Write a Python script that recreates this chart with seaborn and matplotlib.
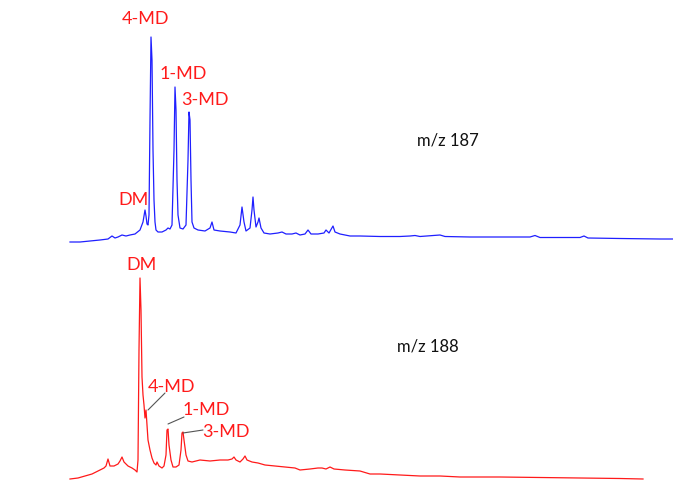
import matplotlib
matplotlib.use('Agg')
import matplotlib.pyplot as plt
import seaborn as sns

# retention time (scan units) and abundance for the m/z 187 trace
t_187 = [70, 80, 90, 100, 108, 112, 115, 118, 122, 126, 130, 135, 140, 143, 145, 146, 147, 148, 149,
         150, 151, 152, 153, 154, 155, 156, 158, 162, 166, 168, 170, 172, 174, 175, 176, 177, 178,
         180, 183, 186, 188, 189, 190, 191, 192, 194, 198, 205, 210, 212, 214, 220, 230, 236, 240,
         242, 244, 246, 250, 252, 253, 254, 256, 258, 259, 261, 264, 270, 278, 282, 286, 292, 296,
         300, 305, 308, 311, 318, 324, 326, 329, 333, 335, 340, 350, 360, 380, 400, 410, 415, 420,
         440, 445, 470, 500, 530, 535, 540, 580, 584, 588, 620, 660, 673]
i_187 = [8, 8, 9, 10, 11, 14, 12, 13, 15, 14, 15, 16, 20, 28, 40, 34, 26, 25, 35,
         130, 213, 190, 100, 50, 28, 20, 18, 18, 20, 22, 21, 25, 100, 163, 140, 70, 35,
         22, 21, 25, 90, 138, 130, 70, 28, 22, 20, 19, 22, 28, 20, 19, 18, 17, 25,
         43, 28, 19, 22, 40, 53, 40, 23, 28, 32, 22, 17, 16, 17, 18, 16, 16, 17,
         15, 16, 20, 16, 16, 17, 20, 17, 24, 18, 16, 14, 14, 13.5, 13.5, 14, 14.5, 13.5,
         15, 13.5, 13, 13, 13, 14.5, 12.5, 12.5, 14, 12, 11.5, 11, 11]

# retention time and abundance for the m/z 188 trace
t_188 = [70, 78, 85, 92, 96, 100, 104, 106, 108, 110, 114, 118, 120, 122, 124, 128, 132, 135, 137,
         138, 139, 140, 141, 142, 143, 144, 145, 146, 147, 148, 150, 152, 154, 156, 157, 159, 162,
         164, 166, 167, 168, 169, 171, 173, 176, 179, 181, 182, 183, 184, 186, 188, 192, 200, 210,
         220, 228, 232, 234, 236, 240, 243, 245, 247, 252, 258, 265, 275, 285, 295, 300, 310, 318,
         322, 326, 330, 334, 345, 360, 370, 380, 400, 420, 440, 460, 480, 500, 540, 580, 620, 643]
i_188 = [4, 5, 7, 9, 11, 13, 15, 17, 24, 17, 17, 19, 22, 26, 21, 17, 15, 13, 11,
         23, 133, 205, 173, 106, 88, 78, 65, 73, 58, 43, 33, 25, 20, 18, 21, 17, 15,
         17, 28, 53, 54, 38, 23, 16, 16, 18, 33, 50, 51, 43, 28, 22, 21, 23, 22,
         23, 23, 24, 26, 23, 21, 24, 27, 23, 21, 20, 18, 17, 16, 15, 13, 14, 15,
         15, 14, 16, 14, 13, 12, 9, 9, 8, 7, 7, 6, 6, 6, 5.5, 5, 4.5, 4]

labels_187 = ["DM", "4-MD", "1-MD", "3-MD"]
labels_188 = ["DM", "4-MD", "1-MD", "3-MD"]

fig = plt.figure(figsize=(6.73, 4.83), dpi=100)
ax1 = fig.add_axes([0, 233 / 483, 1, 250 / 483])
ax2 = fig.add_axes([0, 0, 1, 233 / 483])

sns.lineplot(x=t_187, y=i_187, sort=False, estimator=None, color='#1f1fff', linewidth=0.9, ax=ax1)
sns.lineplot(x=t_188, y=i_188, sort=False, estimator=None, color='#ff1a1a', linewidth=0.9, ax=ax2)

for ax in (ax1, ax2):
    ax.set_xlim(0, 673)
    ax.axis('off')
ax1.set_ylim(0, 250)
ax2.set_ylim(0, 233)

font = dict(family='Lato', fontsize=13, color='#ff1a1a', ha='center', va='center')
leader = dict(arrowstyle='-', color='#555555', lw=0.8, shrinkA=0, shrinkB=0)

# m/z 187 peak labels
ax1.text(133, 50, labels_187[0], **font)
ax1.text(146, 231, labels_187[1], **font)
ax1.text(183, 176, labels_187[2], **font)
ax1.text(205, 150, labels_187[3], **font)
ax1.text(448, 110, "m/z 187", family='Lato', fontsize=12, color='#111111', ha='center', va='center')

# m/z 188 peak labels with leader lines
ax2.text(142, 218, labels_188[0], **font)
ax2.text(172, 96, labels_188[1], **font)
ax2.text(206, 73, labels_188[2], **font)
ax2.text(226, 51, labels_188[3], **font)
ax2.annotate('', xy=(148, 73), xytext=(165, 90), arrowprops=leader)
ax2.annotate('', xy=(168, 59), xytext=(184, 66), arrowprops=leader)
ax2.annotate('', xy=(183, 50), xytext=(203, 53), arrowprops=leader)
ax2.text(428, 136, "m/z 188", family='Lato', fontsize=12, color='#111111', ha='center', va='center')

fig.savefig('out.png', dpi=100)
